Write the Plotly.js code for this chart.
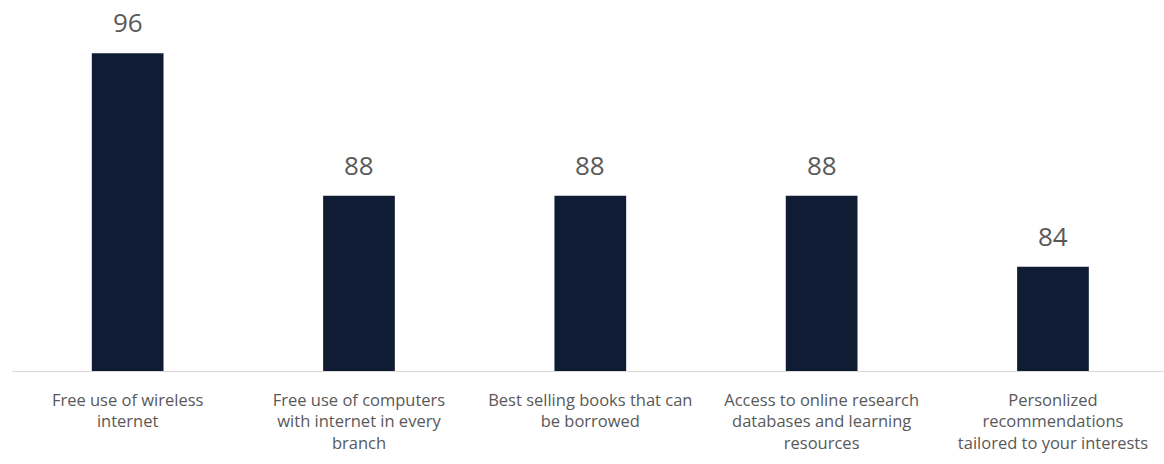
<!DOCTYPE html>
<html>
<head>
<meta charset="utf-8">
<script src="https://cdn.plot.ly/plotly-3.0.1.min.js"></script>
<style>html,body{margin:0;padding:0;background:#fff;}#chart{width:1164px;height:464px;}</style>
</head>
<body>
<div id="chart"></div>
<script>
const categories = [
  "Free use of wireless<br>internet",
  "Free use of computers<br>with internet in every<br>branch",
  "Best selling books that can<br>be borrowed",
  "Access to online research<br>databases and learning<br>resources",
  "Personlized<br>recommendations<br>tailored to your interests"
];
const values = [96, 88, 88, 88, 84];
const valueLabels = values.map(v => String(v));
const positions = categories.map((c, i) => i);

const trace = {
  type: "bar",
  x: positions,
  y: values,
  base: 0,
  width: 0.31,
  marker: {color: "#0f1c33", line: {width: 0}},
  hoverinfo: "skip"
};

const annotations = positions.map((p, i) => ({
  x: p,
  y: values[i],
  xref: "x",
  yref: "y",
  text: valueLabels[i],
  showarrow: false,
  xanchor: "center",
  yanchor: "bottom",
  yshift: 11,
  font: {family: "Open Sans, sans-serif", size: 26, color: "#595959"}
}));

const layout = {
  width: 1164,
  height: 464,
  margin: {l: 12, r: 0, t: 0, b: 93},
  paper_bgcolor: "#ffffff",
  plot_bgcolor: "#ffffff",
  showlegend: false,
  annotations: annotations,
  xaxis: {
    range: [-0.5, 4.48],
    tickvals: positions,
    ticktext: categories,
    tickangle: 0,
    ticks: "",
    ticklabelstandoff: 14,
    tickfont: {family: "Open Sans, sans-serif", size: 16.5, color: "#595959"},
    showline: true,
    linecolor: "#d9d9d9",
    linewidth: 1,
    showgrid: false,
    zeroline: false,
    fixedrange: true
  },
  yaxis: {
    range: [78.15, 98.99],
    visible: false,
    showgrid: false,
    zeroline: false,
    fixedrange: true
  }
};

Plotly.newPlot("chart", [trace], layout, {displayModeBar: false, staticPlot: true});
</script>
</body>
</html>
